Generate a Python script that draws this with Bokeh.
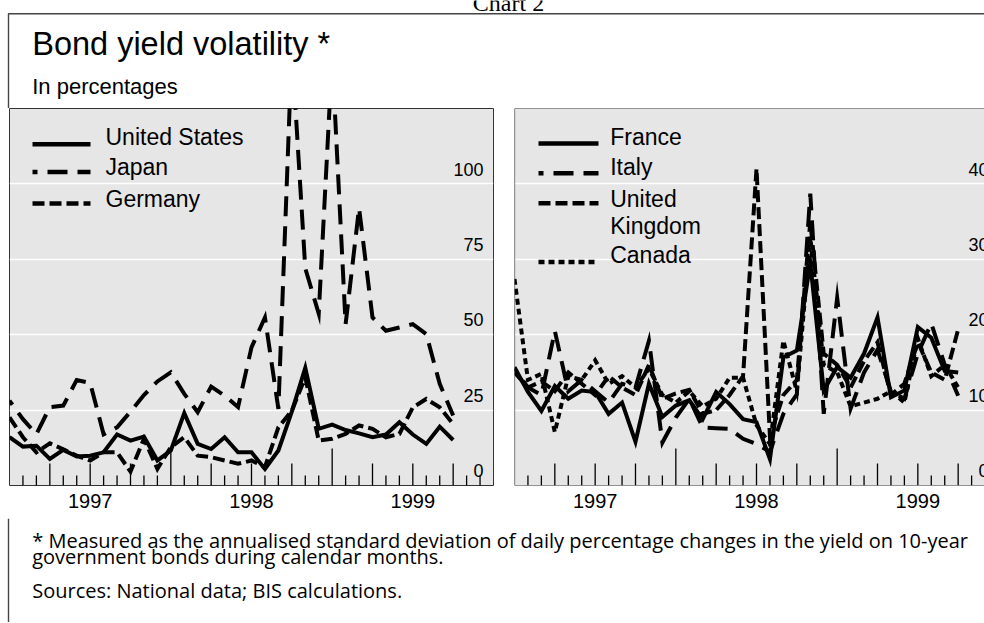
from bokeh.plotting import figure
from bokeh.models import Range1d, FixedTicker, Span
from bokeh.layouts import column, row
from bokeh.embed import file_html
from bokeh.resources import INLINE
from bokeh.core.properties import value

FONT = "Liberation Sans"
NOTE_FONT = "Open Sans"

# ---------------- data (monthly, index 0 = start of 1997) ----------------
MONTHS = list(range(34))
YEAR_LABELS = ["1997", "1998", "1999"]
YEAR_CENTERS = [6, 18, 30]

US = [16.0, 12.9, 13.2, 8.8, 11.8, 9.6, 9.9, 11.0, 16.9, 14.9, 16.2, 8.3,
      11.6, 24.0, 13.8, 12.1, 16.0, 11.0, 11.0, 5.5, 11.6, 24.5, 39.0, 18.8,
      20.2, 18.4, 17.3, 16.0, 16.9, 21.0, 16.9, 13.8, 19.5, 15.1]
JAPAN = [28.1, 22.0, 17.0, 26.0, 26.5, 35.0, 34.0, 17.0, 19.3, 24.5, 30.0, 34.5,
         37.5, 30.4, 24.3, 32.8, 29.8, 26.0, 45.8, 55.7, 25.4, 145.0, 72.0, 57.0,
         142.0, 53.5, 92.0, 55.7, 51.3, 52.4, 53.5, 50.2, 33.7, 23.2]
GERMANY = [22.6, 16.0, 11.0, 14.0, 12.0, 9.9, 8.3, 11.0, 11.0, 4.6, 15.5, 5.5,
           12.7, 16.0, 9.9, 9.4, 8.3, 7.2, 8.3, 6.1, 19.3, 24.8, 35.9, 14.9,
           15.5, 17.1, 19.9, 18.8, 16.0, 17.1, 25.9, 28.7, 25.9, 20.4]

FRANCE = [15.7, 12.4, 9.9, 13.2, 11.5, 12.6, 12.4, 9.5, 11.0, 5.8, 13.5, 9.1,
          10.6, 11.3, 8.8, 12.4, 10.8, 8.8, 8.4, 3.5, 17.0, 17.9, 29.5, 12.6,
          15.7, 14.3, 17.5, 22.3, 11.7, 12.6, 21.0, 19.6, 15.2, 15.0]
ITALY = [15.5, 13.0, 12.0, 20.5, 12.5, 14.0, 12.5, 11.0, 13.5, 13.0, 19.2, 5.7,
         9.0, 11.5, 7.7, 7.6, 7.5, 6.2, 5.5, 4.5, 9.5, 12.1, 38.7, 9.5,
         24.9, 10.2, 15.0, 18.0, 12.5, 11.5, 17.5, 21.5, 16.0, 11.9]
UK = [15.0, 13.0, 13.8, 12.5, 15.0, 13.5, 12.0, 14.5, 13.0, 12.0, 16.0, 11.5,
      12.2, 12.7, 9.5, 10.0, 12.0, 14.5, 42.0, 6.5, 12.0, 14.0, 35.0, 17.5,
      16.0, 13.0, 16.5, 19.0, 12.0, 13.5, 19.0, 15.0, 14.0, 20.7]
CANADA = [27.4, 14.0, 14.8, 7.1, 14.5, 14.0, 16.6, 13.5, 14.5, 13.0, 15.5, 12.0,
          11.0, 12.5, 10.5, 11.5, 14.3, 14.3, 8.0, 5.5, 19.2, 12.5, 33.0, 16.0,
          15.0, 10.5, 11.0, 11.5, 12.5, 11.0, 19.5, 14.5, 16.0, 13.0]

LEFT_NAMES = ["United States", "Japan", "Germany"]
RIGHT_NAMES = ["France", "Italy", "United Kingdom", "Canada"]
LEFT_TICKS = [0, 25, 50, 75, 100]
RIGHT_TICKS = [0, 10, 20, 30, 40]

TITLE = "Bond yield volatility *"
SUBTITLE = "In percentages"
CHART_NO = "Chart 2"
NOTES = ["* Measured as the annualised standard deviation of daily percentage changes in the yield on 10-year",
         "government bonds during calendar months.",
         "Sources: National data; BIS calculations."]

# ---------------- layout constants ----------------
W = 984
HEAD_H = 108
ROW_H = 410
FRAME_H = 377
FOOT_H = 104
N_MONTHS = 36          # full axis span
PX_PER_MONTH = 484 / N_MONTHS
BG = "#e6e6e6"
EDGE = "#333333"
BOX = "#444444"
MID = 0.35             # text is anchored at its middle: baseline - MID * size
LW = 4.0

SOLID = dict(line_dash="solid")
LONG = dict(line_dash="20 10", line_dash_offset=15)
SHORT = dict(line_dash="12 5")
DOTTED = dict(line_dash="6 4")


def blank(width, height):
    p = figure(width=width, height=height, x_range=Range1d(0, width),
               y_range=Range1d(height, 0), toolbar_location=None,
               output_backend="svg", min_border=0)
    p.axis.visible = False
    p.grid.visible = False
    p.outline_line_color = None
    p.background_fill_color = "white"
    p.border_fill_color = "white"
    return p


def put_text(p, xs, baselines, texts, size, font=FONT, align="left"):
    p.text(x=xs, y=[b - MID * size for b in baselines], text=texts,
           text_font=value(font), text_font_size=f"{size}px",
           text_align=align, text_baseline="middle", text_color="black")


# ---------------- header ----------------
head = blank(W, HEAD_H)
head.line(x=[8, 8, W], y=[HEAD_H, 13.3, 13.3], line_color=BOX, line_width=1.4)
put_text(head, [508], [11], [CHART_NO], 24, font="Liberation Serif", align="center")
put_text(head, [31.7], [55], [TITLE], 32.5)
put_text(head, [31.7], [93.3], [SUBTITLE], 22)


# ---------------- panels ----------------
def panel(width, ymax, ticks, series, names, styles, border_left, border_right,
          sw_x, sw_len, txt_x, sw_y, txt_y, outline=True):
    frame_w = width - border_left - border_right
    x_end = frame_w / PX_PER_MONTH
    p = figure(width=width, height=ROW_H, x_range=Range1d(0, x_end),
               y_range=Range1d(0, ymax), toolbar_location=None,
               output_backend="svg", y_axis_location=None,
               min_border_left=border_left, min_border_right=border_right,
               min_border_top=0, min_border_bottom=ROW_H - FRAME_H)
    p.background_fill_color = BG
    p.border_fill_color = "white"
    p.xgrid.visible = False
    p.ygrid.ticker = FixedTicker(ticks=[t for t in ticks if t > 0])
    p.ygrid.grid_line_color = "white"
    p.ygrid.grid_line_width = 1.3
    if outline:
        p.outline_line_color = EDGE
        p.outline_line_width = 1
    else:
        p.outline_line_color = None
        for loc, dim in ((0, "width"), (ymax, "width"), (0, "height")):
            p.add_layout(Span(location=loc, dimension=dim, line_color=EDGE,
                              line_width=1.2))

    ax = p.xaxis[0]
    ax.ticker = FixedTicker(ticks=YEAR_CENTERS)
    ax.major_label_overrides = {c: l for c, l in zip(YEAR_CENTERS, YEAR_LABELS)}
    ax.major_tick_line_color = None
    ax.minor_tick_line_color = None
    ax.axis_line_color = None
    ax.major_label_text_font = FONT
    ax.major_label_text_font_size = "20px"
    ax.major_label_text_color = "black"
    ax.major_label_standoff = 2

    # monthly tick marks drawn upward inside the frame
    short = [m for m in range(1, N_MONTHS) if m % 3]
    quarter = [m for m in range(1, N_MONTHS) if m % 3 == 0 and m % 12]
    year = [m for m in range(1, N_MONTHS) if m % 12 == 0]
    for xs, ln in ((short, 10), (quarter, 22), (year, 37)):
        p.ray(x=xs, y=[0] * len(xs), length=ln, length_units="screen",
              angle=90, angle_units="deg", line_color="black", line_width=1.3)

    # value labels inside the frame at the right
    p.text(x=[N_MONTHS] * len(ticks), y=ticks, text=[str(t) for t in ticks],
           text_font=value(FONT), text_font_size="18px", text_align="right",
           text_baseline="middle", x_offset=-10, y_offset=-8.5 - MID * 18,
           text_color="black")

    # data lines
    for ys, st in zip(series, styles):
        p.line(MONTHS, ys, line_color="black", line_width=LW,
               line_join="miter", line_cap="butt", **st)

    # key (top left, inside the frame)
    for name, st, sy, ty in zip(names, styles, sw_y, txt_y):
        p.ray(x=[sw_x / PX_PER_MONTH], y=[ymax * (1 - sy / FRAME_H)],
              length=sw_len, length_units="screen", angle=0,
              line_color="black", line_width=4.5, line_cap="butt", **st)
        lines = name.split(" ") if len(name) > 13 else [name]
        for k, part in enumerate(lines):
            p.text(x=[0], y=[ymax], text=[part], text_font=value(FONT),
                   text_font_size="23px", text_align="left",
                   text_baseline="middle", x_offset=txt_x,
                   y_offset=ty + 26.7 * k - MID * 23, text_color="black")
    return p


left = panel(514, 125, LEFT_TICKS, [US, JAPAN, GERMANY], LEFT_NAMES,
             [SOLID, LONG, SHORT], 9, 21,
             23, 58, 96, [35.7, 63.4, 95.0], [36.7, 66.7, 98.4])
right = panel(W - 514, 50, RIGHT_TICKS, [FRANCE, ITALY, UK, CANADA], RIGHT_NAMES,
              [SOLID, LONG, SHORT, DOTTED], 0, 0,
              24, 60, 95.7, [35.0, 64.7, 94.7, 153.4], [36.7, 66.7, 98.4, 155.0],
              outline=False)

# ---------------- footer ----------------
foot = blank(W, FOOT_H)
foot.line(x=[8, 8], y=[0, FOOT_H], line_color=BOX, line_width=1.4)
put_text(foot, [31.7] * 3, [28.7, 45.3, 79.3], NOTES, 20, font=NOTE_FONT)

page = column(head, row(left, right, spacing=0), foot, spacing=0)
open("out.html", "w").write(file_html(page, INLINE))
